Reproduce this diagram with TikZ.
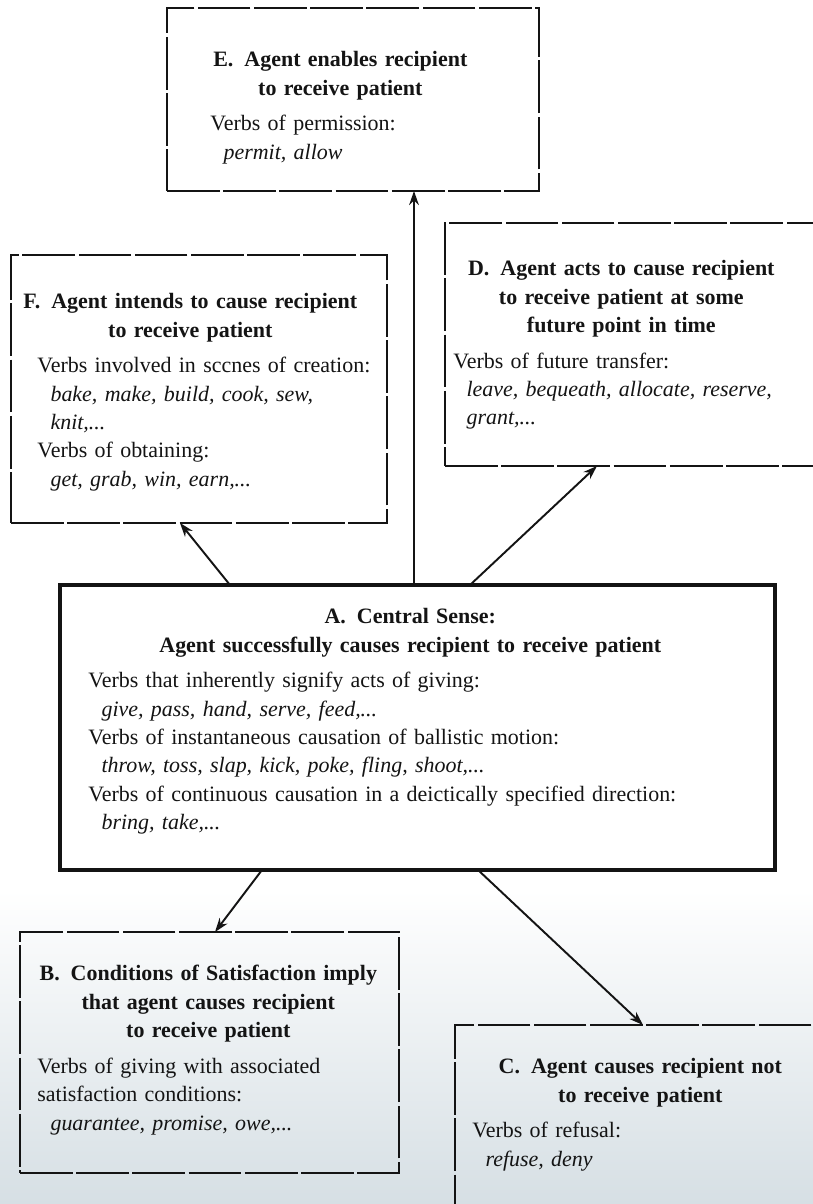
\documentclass[tikz,border=0pt]{standalone}
\usepackage{fontspec}
\setmainfont{Liberation Serif}
\definecolor{inkblack}{RGB}{20, 20, 20}
\definecolor{scanblue}{RGB}{214, 223, 228}
\usetikzlibrary{arrows.meta, calc}
\newcommand{\boxfont}{\fontsize{12.5}{16.2}\selectfont}
\newcommand{\ttl}[1]{\makebox[\linewidth]{\bfseries #1}}
\newcommand{\ex}[1]{\hspace*{0.6em}\textit{#1}}

\begin{document}
\begin{tikzpicture}[x=0.02cm, y=-0.02cm,
  frame/.style={draw=inkblack, line width=1pt, dash pattern=on 30pt off 2pt,
    inner sep=0pt, outer sep=0pt, anchor=north west},
  central/.style={draw=inkblack, line width=2pt, inner sep=0pt, outer sep=0pt,
    anchor=north west},
  txt/.style={anchor=north west, align=left, inner sep=0pt, font=\boxfont,
    text=inkblack},
  arr/.style={draw=inkblack, line width=1.1pt, -{Stealth[length=8pt, width=5.5pt]}}]
  \clip (0,0) rectangle (813,1204);
  \fill[white] (0,0) rectangle (813,1204);
  \shade[top color=white, bottom color=scanblue] (0,890) rectangle (813,1204);

  % E: enabling
  \node[frame, minimum width=7.44cm, minimum height=3.66cm] (boxE) at (167,8) {};
  \node[txt, text width=5.2cm] (textE) at (210,51) {
    \ttl{E.\enspace Agent enables recipient}\\
    \ttl{to receive patient}\\[4pt]
    Verbs of permission:\\
    \ex{permit, allow}
  };

  % F: intention
  \node[frame, minimum width=7.52cm, minimum height=5.36cm] (boxF) at (11,255) {};
  \node[txt, text width=6.12cm] (textF) at (37,293) {
    \ttl{F.\enspace Agent intends to cause recipient}\\
    \ttl{to receive patient}\\[4pt]
    \mbox{Verbs involved in sccnes of creation:}\\
    \ex{bake, make, build, cook, sew,}\\
    \ex{knit,...}\\
    Verbs of obtaining:\\
    \ex{get, grab, win, earn,...}
  };

  % D: future transfer
  \node[frame, minimum width=7.7cm, minimum height=4.86cm] (boxD) at (445,223) {};
  \node[txt, text width=6.72cm] (textD) at (453,260) {
    \ttl{D.\enspace Agent acts to cause recipient}\\
    \ttl{to receive patient at some}\\
    \ttl{future point in time}\\[4pt]
    Verbs of future transfer:\\
    \ex{leave, bequeath, allocate, reserve,}\\
    \ex{grant,...}
  };

  % A: central sense
  \node[central, minimum width=14.3cm, minimum height=5.7cm] (boxA) at (60,585) {};
  \node[txt, text width=12.88cm] (textA) at (88,608) {
    \ttl{A.\enspace Central Sense:}\\
    \ttl{Agent successfully causes recipient to receive patient}\\[4pt]
    Verbs that inherently signify acts of giving:\\
    \ex{give, pass, hand, serve, feed,...}\\
    Verbs of instantaneous causation of ballistic motion:\\
    \ex{throw, toss, slap, kick, poke, fling, shoot,...}\\
    Verbs of continuous causation in a deictically specified direction:\\
    \ex{bring, take,...}
  };

  % B: conditions of satisfaction
  \node[frame, minimum width=7.58cm, minimum height=4.82cm] (boxB) at (20,932) {};
  \node[txt, text width=6.84cm] (textB) at (37,965) {
    \ttl{B.\enspace Conditions of Satisfaction imply}\\
    \ttl{that agent causes recipient}\\
    \ttl{to receive patient}\\[4pt]
    Verbs of giving with associated\\
    satisfaction conditions:\\
    \ex{guarantee, promise, owe,...}
  };

  % C: negation
  \node[frame, minimum width=7.7cm, minimum height=4.1cm] (boxC) at (455,1025) {};
  \node[txt, text width=6.72cm] (textC) at (472,1058) {
    \ttl{C.\enspace Agent causes recipient not}\\
    \ttl{to receive patient}\\[4pt]
    Verbs of refusal:\\
    \ex{refuse, deny}
  };

  % links out of the central sense
  \draw[arr] ($(boxA.north west)+(170,0)$) -- ($(boxF.south west)+(169,0)$);
  \draw[arr] ($(boxA.north west)+(354,0)$) -- ($(boxE.south west)+(247,0)$);
  \draw[arr] ($(boxA.north west)+(410,0)$) -- ($(boxD.south west)+(152,0)$);
  \draw[arr] ($(boxA.south west)+(202,0)$) -- ($(boxB.north west)+(195,0)$);
  \draw[arr] ($(boxA.south west)+(418,0)$) -- ($(boxC.north west)+(188,0)$);
\end{tikzpicture}
\end{document}
